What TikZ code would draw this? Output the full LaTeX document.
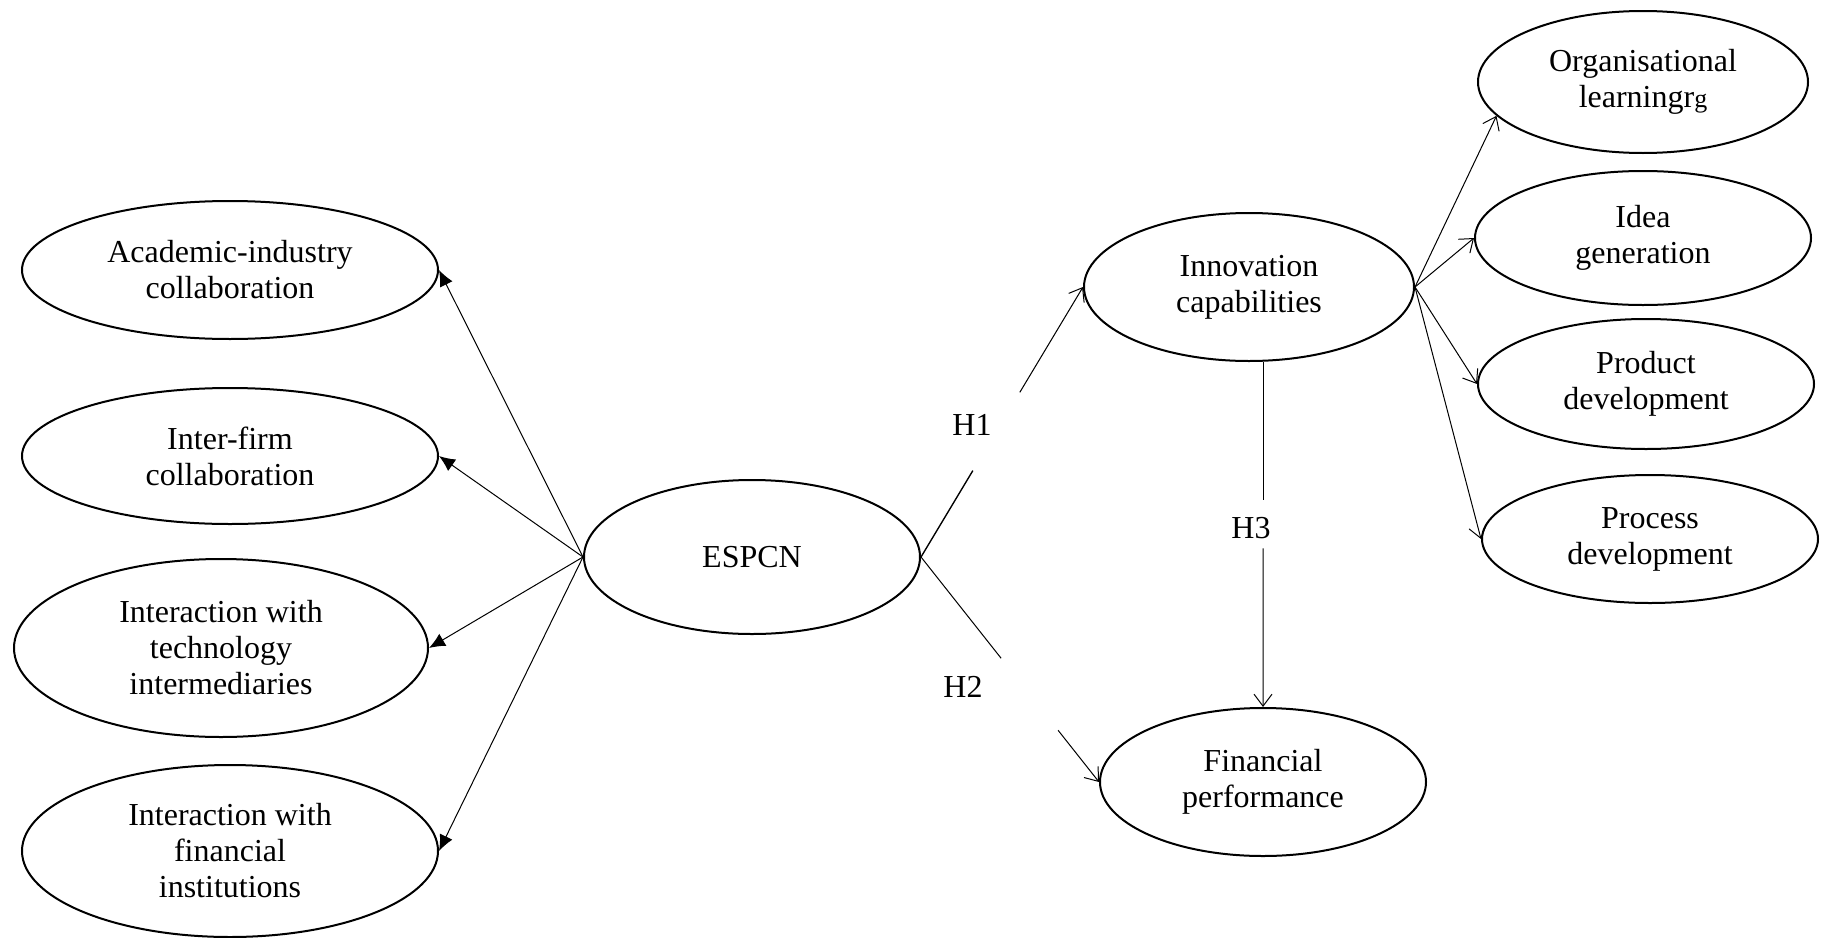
\documentclass[tikz,border=0pt]{standalone}
\usepackage{fontspec}
\setmainfont{Liberation Serif}
\usetikzlibrary{shapes.geometric,arrows.meta,calc}
\tikzset{construct/.style={draw, ellipse, line width=1pt, inner sep=0pt, align=center, font=\fontsize{16}{18}\selectfont},
  loading/.style={-{Latex[length=8pt,width=7pt]}, line width=0.5pt},
  indic/.style={-{Straight Barb[length=6pt,width=9pt]}, line width=0.5pt},
  hyp/.style={line width=0.7pt},
  hlabel/.style={font=\fontsize{16}{18}\selectfont}}

\begin{document}
\begin{tikzpicture}[x=0.5pt,y=-0.5pt] % one unit = one pixel of the figure
\useasboundingbox (0,0) rectangle (1825,937);
% the network and its dimensions
\node[construct, minimum width=168pt, minimum height=77pt] (espcn) at (752,557) {ESPCN};
\node[construct, minimum width=208pt, minimum height=69pt] (acad) at (230,270) {Academic-industry\\collaboration};
\node[construct, minimum width=208pt, minimum height=68pt] (inter) at (230,456) {Inter-firm\\collaboration};
\node[construct, minimum width=207pt, minimum height=89pt] (tech) at (221,648) {Interaction with\\technology\\intermediaries};
\node[construct, minimum width=208pt, minimum height=86pt] (fininst) at (230,851) {Interaction with\\financial\\institutions};
% outcomes
\node[construct, minimum width=165pt, minimum height=74pt] (innov) at (1249,287) {Innovation\\capabilities};
\node[construct, minimum width=163pt, minimum height=74pt] (finperf) at (1263,782) {Financial\\performance};
\node[construct, minimum width=165pt, minimum height=71pt] (orgl) at (1643,82) {Organisational\\learningr{\fontsize{13}{15}\selectfont g}};
\node[construct, minimum width=168pt, minimum height=67pt] (idea) at (1643,238) {Idea\\generation};
\node[construct, minimum width=168pt, minimum height=65pt] (prod) at (1646,384) {Product\\development};
\node[construct, minimum width=168pt, minimum height=64pt] (proc) at (1650,539) {Process\\development};

\foreach \dim in {acad,inter,tech,fininst}
  \draw[loading] (espcn.west) -- (\dim.east);

\draw[indic] (innov.east) -- (orgl.193);
\draw[indic] (innov.east) -- (idea.west);
\draw[indic] (innov.east) -- (prod.west);
\draw[indic] (innov.east) -- (proc.west);

% hypotheses, the labels sit in a gap of the line
\node[hlabel] (h1) at (972,425) {H1};
\node[hlabel] (h2) at (963,687) {H2};
\node[hlabel] (h3) at (1251,528) {H3};
\draw[hyp] (espcn.east) -- ($(espcn.east)!.32!(innov.west)$);
\draw[hyp,indic] ($(espcn.east)!.61!(innov.west)$) -- (innov.west);
\draw[hyp,line width=0.5pt] (espcn.east) -- ($(espcn.east)!.45!(finperf.west)$);
\draw[indic] ($(espcn.east)!.77!(finperf.west)$) -- (finperf.west);
\draw[line width=0.5pt] (innov.south -| finperf.north) -- ($(innov.south -| finperf.north)!.40!(finperf.north)$);
\draw[indic] ($(innov.south -| finperf.north)!.54!(finperf.north)$) -- (finperf.north);
\end{tikzpicture}
\end{document}
